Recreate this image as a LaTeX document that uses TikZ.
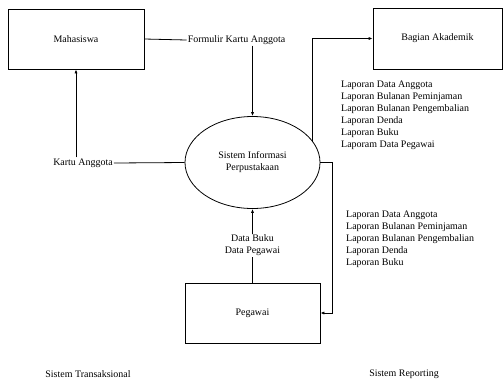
\documentclass[tikz,border=0pt]{standalone}
\usepackage{fontspec}
\setmainfont{Liberation Serif}
\usetikzlibrary{arrows.meta,shapes.geometric}
\begin{document}
\begin{tikzpicture}[x=1bp,y=-1bp,
  font=\fontsize{10}{12}\selectfont,
  box/.style={draw, line width=0.8bp, inner sep=0pt},
  proc/.style={draw, ellipse, line width=0.8bp, inner sep=0pt, minimum width=135bp, minimum height=92bp, align=center},
  lbl/.style={inner sep=1bp, align=center},
  blk/.style={inner sep=0pt, align=left, anchor=west},
  flow/.style={line width=0.8bp},
  arr/.style={flow, -{Latex[length=4bp,width=3.2bp]}}]
\useasboundingbox (0,0) rectangle (504,381);
\node[box, minimum width=136bp, minimum height=60bp] (mhs) at (76,39) {Mahasiswa};
\node[box, minimum width=129bp, minimum height=61bp] (ba) at (437.5,38.5) {Bagian Akademik};
\node[proc] (sip) at (252.5,162.5) {Sistem Informasi\\Perpustakaan};
\node[box, minimum width=135bp, minimum height=60bp] (peg) at (252.5,313) {Pegawai};
\node[lbl] (fka) at (236.5,40) {Formulir Kartu Anggota};
\node[lbl] (ka) at (83,163) {Kartu Anggota};
\node[lbl] (dbdp) at (252.5,245.5) {Data Buku\\Data Pegawai};
\node[blk] (lap1) at (341,115) {Laporan Data Anggota\\Laporan Bulanan Peminjaman\\Laporan Bulanan Pengembalian\\Laporan Denda\\Laporan Buku\\Laporam Data Pegawai};
\node[blk] (lap2) at (346,239) {Laporan Data Anggota\\Laporan Bulanan Peminjaman\\Laporan Bulanan Pengembalian\\Laporan Denda\\Laporan Buku};
\node[lbl] (st) at (88,374) {Sistem Transaksional};
\node[lbl] (sr) at (404,374) {Sistem Reporting};
% connectors
\draw[flow] (mhs.east) -- (fka.west);
\draw[arr] (fka.south -| sip.north) -- (sip.north);
\draw[flow] (sip.west) -- (ka.east);
\draw[arr] (ka.north -| mhs.south) -- (mhs.south);
\coordinate (up) at (312,141);
\draw[arr] (up) |- (ba.west);
\coordinate (rt) at (332,162.5);
\draw[arr] (sip.east) -- (rt) |- (peg.east);
\draw[flow] (peg.north) -- (dbdp.south);
\draw[arr] (dbdp.north) -- (sip.south);
\end{tikzpicture}
\end{document}
